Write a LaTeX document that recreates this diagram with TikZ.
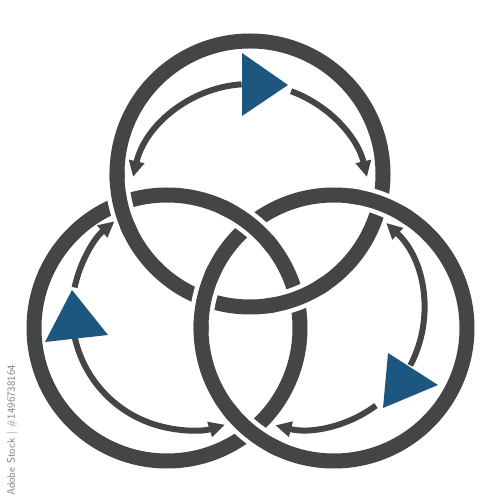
\documentclass[tikz,border=0pt]{standalone}
\usetikzlibrary{arrows.meta}
\definecolor{ringgray}{RGB}{68,69,71}
\definecolor{playblue}{RGB}{29,87,128}
\begin{document}
\begin{tikzpicture}[x=1pt,y=1pt,
  ring/.style={draw=ringgray,line width=15pt},
  gapline/.style={draw=white,line width=24pt},
  flow/.style={draw=ringgray,line width=6pt,-{Triangle[length=16pt,width=15pt]}},
  play/.style={fill=playblue}]
\useasboundingbox (0,0) rectangle (500,500);
\coordinate (top) at (250,326);
\coordinate (left) at (167,172);
\coordinate (right) at (334,172);
\coordinate (topflow) at (250,296);
\coordinate (leftflow) at (190,188);
\coordinate (rightflow) at (305,190);
% rings
\foreach \c in {top,left,right}
  \draw[ring] (\c) circle[radius=133];
% crossings: the ring that lies over
\foreach \c/\a in {top/192.5,top/291,right/69.4,right/167.6,left/51.5,right/231.5}{
  \pgfmathsetmacro\s{\a-10}
  \pgfmathsetmacro\e{\a+10}
  \pgfmathsetmacro\ss{\a-14}
  \pgfmathsetmacro\ee{\a+14}
  \draw[gapline] ([shift={(\s:133)}]\c) arc[start angle=\s,end angle=\e,radius=133];
  \draw[ring] ([shift={(\ss:133)}]\c) arc[start angle=\ss,end angle=\ee,radius=133];
}
% arrows inside each ring
\draw[flow] ([shift={(94:120)}]topflow) arc[start angle=94,end angle=167,radius=120];
\draw[flow] ([shift={(70:120)}]topflow) arc[start angle=70,end angle=13,radius=120];
\draw[flow] ([shift={(168:118)}]leftflow) arc[start angle=168,end angle=129.8,radius=118];
\draw[flow] ([shift={(192.7:118)}]leftflow) arc[start angle=192.7,end angle=287.2,radius=118];
\draw[flow] ([shift={(-27.8:119)}]rightflow) arc[start angle=-27.8,end angle=47,radius=119];
\draw[flow] ([shift={(-53.4:119)}]rightflow) arc[start angle=-53.4,end angle=-104.4,radius=119];
% play marks
\fill[play] (242,447) -- (288,415) -- (242,384) -- cycle;
\fill[play] (72,210) -- (108,165) -- (45,158) -- cycle;
\fill[play] (388,147) -- (438,115) -- (383,92) -- cycle;
\node[rotate=90,anchor=east,inner sep=0pt,text=gray,font=\sffamily\fontsize{11}{11}\selectfont] (stockid) at (12,135) {Adobe Stock | \#1496738164};
\end{tikzpicture}
\end{document}
